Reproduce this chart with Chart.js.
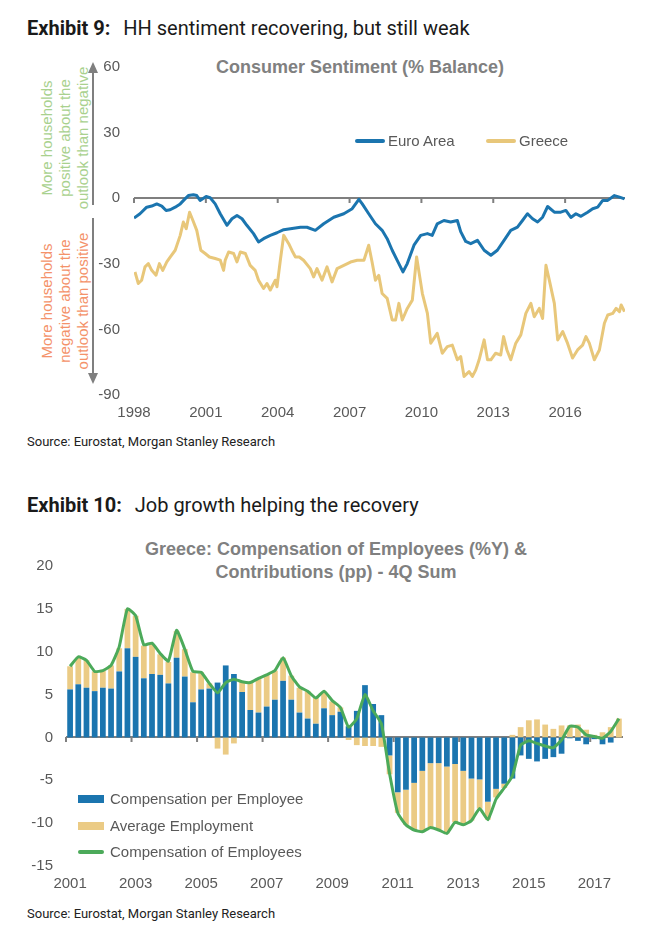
<!DOCTYPE html>
<html>
<head>
<meta charset="utf-8">
<script src="https://cdn.jsdelivr.net/npm/chart.js@4.4.1/dist/chart.umd.min.js"></script>
<style>
    body { margin: 0; background: #fff; width: 658px; height: 935px; position: relative; overflow: hidden; font-family: 'Liberation Sans', Arial, sans-serif; }
    .abs { position: absolute; white-space: nowrap; }
    .exhibit { font-family: Roboto, 'Liberation Sans', sans-serif; font-size: 20px; line-height: 20px; color: #1a1a1a; }
    .exhibit b { font-weight: 700; margin-right: 8px; }
    .title { font-size: 18px; line-height: 23px; font-weight: bold; color: #808080; text-align: center; }
    .source { font-family: Roboto, 'Liberation Sans', sans-serif; font-size: 13px; line-height: 13px; color: #222; }
    .legend { font-size: 15px; line-height: 18px; color: #595959; display: flex; align-items: center; }
    .sw-line { display: inline-block; width: 30px; height: 4px; border-radius: 2px; margin-right: 3px; }
    .sw-bar { display: inline-block; width: 26px; height: 8px; margin-right: 6px; }
    .rot { font-size: 15px; line-height: 18px; text-align: center; transform: translate(-50%, -50%) rotate(-90deg); }
    .box { position: absolute; left: 0; width: 658px; }
</style>
</head>
<body>

<div class="abs exhibit" style="left:27px; top:18px"><b>Exhibit 9:</b> HH sentiment recovering, but still weak</div>
<div class="abs title" style="left:216px; top:56px">Consumer Sentiment (% Balance)</div>

<div class="abs rot" style="left:65px; top:138px; color:#a9d18e">More households<br>positive about the<br>outlook than negative</div>
<div class="abs rot" style="left:65px; top:301px; color:#f4926a">More households<br>negative about the<br>outlook than positive</div>
<svg class="abs" style="left:0; top:0" width="120" height="400">
    <line x1="93" y1="70" x2="93" y2="205" stroke="#7f7f7f" stroke-width="2"/>
    <polygon points="93,62 88,73 98,73" fill="#7f7f7f"/>
    <line x1="93" y1="218" x2="93" y2="375" stroke="#7f7f7f" stroke-width="2"/>
    <polygon points="93,384 88,373 98,373" fill="#7f7f7f"/>
</svg>

<div class="box" style="top:44px; height:386px"><canvas id="sentiment-chart"></canvas></div>

<div class="abs legend" style="left:355px; top:132px"><span class="sw-line" style="background:#1b75af"></span>Euro Area</div>
<div class="abs legend" style="left:486px; top:132px"><span class="sw-line" style="background:#e8c77a"></span>Greece</div>

<div class="abs source" style="left:27px; top:435px">Source: Eurostat, Morgan Stanley Research</div>

<div class="abs exhibit" style="left:27px; top:495px"><b>Exhibit 10:</b> Job growth helping the recovery</div>
<div class="abs title" style="left:136px; width:400px; top:538px">Greece: Compensation of Employees (%Y) &amp;<br>Contributions (pp) - 4Q Sum</div>

<div class="box" style="top:530px; height:366px"><canvas id="compensation-chart"></canvas></div>

<div class="abs legend" style="left:78px; top:790px"><span class="sw-bar" style="background:#1b75af"></span>Compensation per Employee</div>
<div class="abs legend" style="left:78px; top:817px"><span class="sw-bar" style="background:#ebcb85"></span>Average Employment</div>
<div class="abs legend" style="left:78px; top:843px"><span class="sw-line" style="background:#4caa5a; width:26px; margin-right:6px"></span>Compensation of Employees</div>

<div class="abs source" style="left:27px; top:907px">Source: Eurostat, Morgan Stanley Research</div>

<script>
// Data konsumen (Exhibit 9) - tanggal dalam tahun desimal
const euroDates = [1998.0, 1998.25, 1998.53, 1998.74, 1998.95, 1999.16, 1999.34, 1999.51, 1999.72, 1999.93,
    2000.13, 2000.27, 2000.48, 2000.62, 2000.76, 2001.01, 2001.18, 2001.39, 2001.6, 2001.88,
    2002.09, 2002.3, 2002.51, 2002.71, 2002.99, 2003.2, 2003.41, 2003.69, 2003.97, 2004.25,
    2004.53, 2004.95, 2005.22, 2005.57, 2005.92, 2006.34, 2006.76, 2007.11, 2007.39, 2007.53,
    2007.8, 2008.08, 2008.36, 2008.57, 2008.78, 2008.99, 2009.23, 2009.41, 2009.69, 2009.97,
    2010.25, 2010.45, 2010.66, 2010.94, 2011.22, 2011.5, 2011.64, 2011.85, 2012.06, 2012.34,
    2012.62, 2012.9, 2013.17, 2013.45, 2013.73, 2014.01, 2014.22, 2014.43, 2014.64, 2014.85,
    2015.06, 2015.27, 2015.55, 2015.82, 2016.03, 2016.24, 2016.45, 2016.66, 2016.94, 2017.15,
    2017.36, 2017.57, 2017.78, 2018.06, 2018.27, 2018.48];
const euroValues = [-9.1, -7.1, -4.1, -3.6, -2.6, -3.6, -5.6, -5.3, -4.1, -2.6,
    -0.3, 1.2, 1.6, 1.2, -1.0, 0.8, 0.2, -2.6, -7.1, -12.4,
    -9.4, -7.9, -9.4, -12.4, -16.2, -20.0, -18.5, -17.0, -15.8, -14.4,
    -14.0, -13.3, -13.3, -14.7, -11.7, -8.7, -7.1, -4.8, -0.5, -2.6,
    -7.1, -11.7, -14.7, -18.5, -23.8, -28.4, -33.7, -29.9, -21.5, -17.0,
    -16.2, -17.0, -11.7, -10.2, -10.9, -10.2, -15.3, -19.8, -20.8, -19.3,
    -23.8, -26.1, -23.8, -19.3, -14.7, -13.2, -10.2, -7.1, -9.4, -10.9,
    -8.7, -3.8, -6.4, -6.4, -5.6, -8.8, -7.1, -8.3, -6.4, -4.8,
    -4.1, -1.0, -1.0, 1.2, 0.5, -0.3];

const greeceDates = [1998.04, 1998.18, 1998.32, 1998.46, 1998.6, 1998.74, 1998.92, 1999.06, 1999.2, 1999.37,
    1999.51, 1999.72, 1999.93, 2000.06, 2000.18, 2000.32, 2000.46, 2000.62, 2000.79, 2000.97,
    2001.15, 2001.39, 2001.6, 2001.74, 2001.81, 2001.95, 2002.16, 2002.3, 2002.44, 2002.65,
    2002.85, 2003.06, 2003.2, 2003.41, 2003.55, 2003.69, 2003.9, 2003.97, 2004.11, 2004.25,
    2004.46, 2004.6, 2004.74, 2004.9, 2005.08, 2005.36, 2005.5, 2005.64, 2005.85, 2006.06,
    2006.27, 2006.48, 2006.76, 2007.04, 2007.32, 2007.6, 2007.8, 2007.94, 2008.08, 2008.22,
    2008.36, 2008.57, 2008.78, 2008.92, 2009.06, 2009.2, 2009.41, 2009.62, 2009.8, 2010.04,
    2010.25, 2010.39, 2010.66, 2010.87, 2011.08, 2011.29, 2011.5, 2011.64, 2011.78, 2011.99,
    2012.13, 2012.27, 2012.41, 2012.62, 2012.76, 2012.9, 2013.1, 2013.31, 2013.43, 2013.57,
    2013.73, 2013.94, 2014.15, 2014.36, 2014.57, 2014.71, 2014.92, 2015.06, 2015.2, 2015.34,
    2015.55, 2015.69, 2015.9, 2016.1, 2016.31, 2016.52, 2016.73, 2016.87, 2017.01, 2017.22,
    2017.43, 2017.64, 2017.78, 2017.99, 2018.13, 2018.27, 2018.34, 2018.48];
const greeceValues = [-33.7, -39.0, -37.5, -31.4, -29.9, -33.0, -35.2, -29.9, -33.0, -29.1,
    -26.9, -23.8, -17.0, -10.9, -13.9, -6.4, -10.2, -14.7, -23.8, -25.3,
    -26.9, -27.6, -28.3, -33.0, -28.3, -24.6, -25.3, -29.1, -24.6, -25.3,
    -30.7, -33.0, -37.5, -41.3, -39.0, -42.0, -37.5, -40.5, -28.4, -17.0,
    -20.8, -24.0, -26.9, -26.9, -28.4, -32.2, -36.0, -32.2, -37.5, -31.4,
    -38.3, -32.2, -30.7, -29.2, -28.4, -28.4, -21.5, -29.2, -37.5, -35.3,
    -43.6, -45.8, -55.7, -55.7, -48.1, -55.7, -50.4, -46.6, -26.9, -43.6,
    -52.7, -66.3, -61.8, -70.9, -67.9, -67.2, -73.9, -72.4, -81.5, -79.3,
    -81.5, -78.5, -73.9, -64.8, -73.9, -73.9, -70.9, -71.7, -63.3, -69.4,
    -73.9, -66.3, -62.5, -52.7, -48.1, -54.2, -50.4, -55.0, -30.7, -37.5,
    -48.1, -64.8, -61.0, -66.3, -73.1, -69.4, -67.2, -63.3, -66.3, -73.9,
    -69.4, -57.2, -53.4, -52.7, -50.4, -51.9, -48.8, -51.9];

// Data kompensasi (Exhibit 10) - kuartal 2001Q1 s/d 2017Q4
const quarters = [];
for (let y = 2001; y <= 2017; y++) {
    for (let q = 1; q <= 4; q++) quarters.push(y + 'Q' + q);
}
const yearLabels = ['2001', '2003', '2005', '2007', '2009', '2011', '2013', '2015', '2017'];

const compPerEmployee = [5.6, 6.2, 5.8, 5.4, 5.8, 5.7, 7.7, 10.4, 9.4, 6.9, 7.4, 7.3, 6.3, 9.3, 7.1, 4.1,
    5.6, 5.7, 6.4, 8.4, 7.4, 5.3, 3.2, 2.9, 3.6, 4.4, 6.6, 4.4, 2.9, 2.2, 1.6, 3.4,
    2.6, 3.0, 1.3, 3.1, 6.1, 3.9, 2.6, -2.1, -6.4, -6.1, -5.3, -3.9, -3.0, -3.0, -3.4, -3.1,
    -3.9, -4.8, -4.9, -7.5, -6.0, -5.4, -4.8, -2.1, -2.5, -2.8, -2.5, -2.3, -1.9, -0.1, -0.4, -0.8,
    -0.2, -0.8, -0.6, 0.0];
const avgEmployment = [2.7, 3.1, 3.2, 2.3, 2.0, 2.7, 2.7, 4.6, 4.8, 3.8, 3.5, 2.4, 2.5, 3.1, 3.2, 3.5,
    2.0, 0.6, -1.3, -2.0, -0.7, 1.2, 3.3, 3.9, 3.7, 3.4, 2.7, 2.8, 2.9, 3.2, 3.0, 1.9,
    1.6, 0.5, -0.3, -0.9, -1.0, -1.0, -1.1, -2.2, -2.4, -4.1, -5.5, -7.1, -7.5, -7.8, -7.8, -6.8,
    -6.3, -4.9, -3.4, -2.1, -1.0, -0.5, 0.3, 1.2, 2.0, 2.1, 1.5, 1.0, 1.4, 1.4, 1.5, 0.9,
    0.3, 0.6, 1.2, 2.2];
const compOfEmployees = [8.3, 9.4, 9.0, 7.7, 7.8, 8.4, 10.6, 15.0, 14.2, 10.8, 11.0, 9.8, 8.9, 12.5, 10.3, 7.7,
    7.6, 6.3, 5.2, 6.4, 6.8, 6.5, 6.4, 6.9, 7.3, 7.8, 9.3, 7.2, 5.9, 5.4, 4.6, 5.4,
    4.3, 3.5, 1.2, 2.2, 5.0, 3.1, 1.6, -4.2, -8.8, -10.2, -10.8, -11.0, -10.5, -10.8, -11.2, -9.9,
    -10.2, -9.7, -8.3, -9.6, -7.2, -5.9, -4.5, -0.9, -0.4, -0.7, -1.0, -1.2, -0.3, 1.3, 1.2, 0.3,
    0.1, -0.1, 0.7, 2.2];

const axisGray = '#7f7f7f';
const labelGray = '#595959';

Chart.defaults.font.family = "'Liberation Sans', Arial, sans-serif";
Chart.defaults.font.size = 15;
Chart.defaults.color = labelGray;

document.addEventListener('DOMContentLoaded', function() {
    renderSentimentChart();
    renderCompensationChart();
});

// Garis nol + tanda tick (sumbu horizontal di y = 0)
function zeroAxisPlugin(tickPixels) {
    return {
        id: 'zeroAxis',
        beforeDatasetsDraw(chart) {
            const ctx = chart.ctx;
            const area = chart.chartArea;
            const y0 = Math.round(chart.scales.y.getPixelForValue(0));
            ctx.save();
            ctx.strokeStyle = axisGray;
            ctx.lineWidth = 2;
            ctx.beginPath();
            ctx.moveTo(area.left, y0);
            ctx.lineTo(area.right, y0);
            tickPixels(chart).forEach(function(px) {
                ctx.moveTo(px, y0);
                ctx.lineTo(px, y0 + 5);
            });
            ctx.stroke();
            ctx.restore();
        }
    };
}

function renderSentimentChart() {
    const ctx = document.getElementById('sentiment-chart').getContext('2d');
    new Chart(ctx, {
        type: 'line',
        data: {
            datasets: [{
                label: 'Euro Area',
                data: euroDates.map((d, i) => ({ x: d, y: euroValues[i] })),
                borderColor: '#1b75af',
                borderWidth: 3
            }, {
                label: 'Greece',
                data: greeceDates.map((d, i) => ({ x: d, y: greeceValues[i] })),
                borderColor: '#e8c77a',
                borderWidth: 3
            }]
        },
        options: {
            responsive: true,
            maintainAspectRatio: false,
            animation: false,
            events: [],
            elements: { point: { radius: 0 }, line: { tension: 0, borderJoinStyle: 'round' } },
            layout: { padding: { top: 16, right: 33, left: 0, bottom: 0 } },
            scales: {
                x: {
                    type: 'linear',
                    min: 1998,
                    max: 2018.5,
                    grid: { display: false, drawTicks: false },
                    border: { display: false },
                    ticks: {
                        stepSize: 3,
                        includeBounds: false,
                        padding: 9,
                        maxRotation: 0,
                        callback: value => String(value)
                    },
                    afterFit: scale => { scale.height = 35; }
                },
                y: {
                    min: -90,
                    max: 60,
                    grid: { display: false, drawTicks: false },
                    border: { display: false },
                    ticks: { stepSize: 30, padding: 14 },
                    afterFit: scale => { scale.width = 134; }
                }
            },
            plugins: {
                legend: { display: false },
                tooltip: { enabled: false }
            }
        },
        plugins: [zeroAxisPlugin(chart => chart.scales.x.ticks.map(t => chart.scales.x.getPixelForValue(t.value)))]
    });
}

function renderCompensationChart() {
    const ctx = document.getElementById('compensation-chart').getContext('2d');
    new Chart(ctx, {
        type: 'bar',
        data: {
            labels: quarters,
            datasets: [{
                type: 'line',
                label: 'Compensation of Employees',
                data: compOfEmployees,
                borderColor: '#4caa5a',
                borderWidth: 3,
                borderJoinStyle: 'round',
                pointRadius: 0,
                tension: 0.15,
                stack: 'total',
                order: 0
            }, {
                label: 'Compensation per Employee',
                data: compPerEmployee,
                backgroundColor: '#1b75af',
                stack: 'contrib',
                order: 1
            }, {
                label: 'Average Employment',
                data: avgEmployment,
                backgroundColor: '#ebcb85',
                stack: 'contrib',
                order: 2
            }]
        },
        options: {
            responsive: true,
            maintainAspectRatio: false,
            animation: false,
            events: [],
            datasets: { bar: { barPercentage: 0.7, categoryPercentage: 1.0 } },
            layout: { padding: { top: 36, right: 35, left: 0, bottom: 0 } },
            scales: {
                x: {
                    stacked: true,
                    grid: { display: false, drawTicks: false },
                    border: { display: false },
                    ticks: {
                        autoSkip: false,
                        maxRotation: 0,
                        padding: 9,
                        callback: (value, index) => index % 8 === 0 ? yearLabels[index / 8] : ''
                    },
                    afterFit: scale => { scale.height = 30; }
                },
                y: {
                    stacked: true,
                    min: -15,
                    max: 20,
                    grid: { display: false, drawTicks: false },
                    border: { display: false },
                    ticks: { stepSize: 5, padding: 13 },
                    afterFit: scale => { scale.width = 66; }
                }
            },
            plugins: {
                legend: { display: false },
                tooltip: { enabled: false }
            }
        },
        plugins: [zeroAxisPlugin(chart => {
            const x = chart.scales.x;
            const half = (x.getPixelForValue(1) - x.getPixelForValue(0)) / 2;
            const px = [];
            for (let i = 0; i < quarters.length; i += 8) px.push(x.getPixelForValue(i) - half);
            return px;
        })]
    });
}
</script>
</body>
</html>
